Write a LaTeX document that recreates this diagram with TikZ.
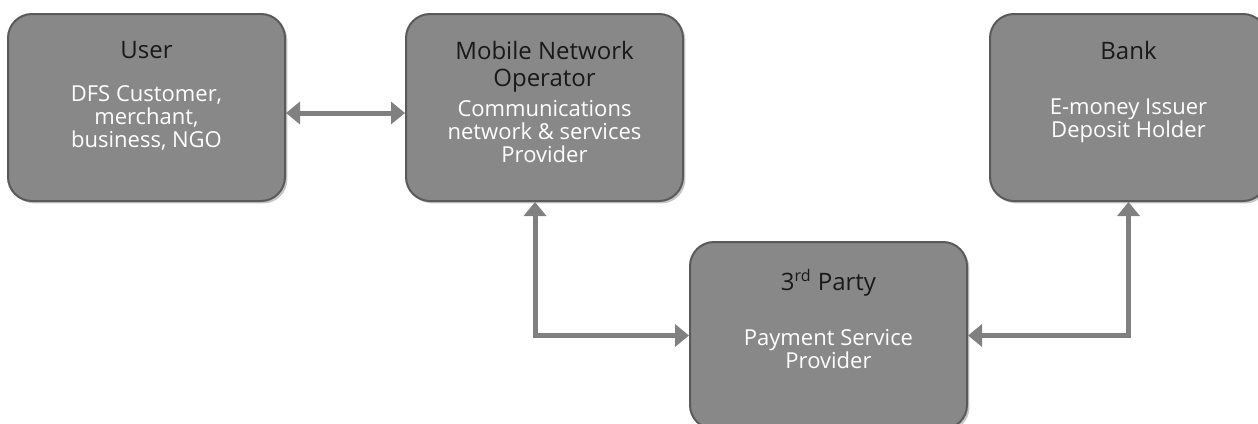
\documentclass[tikz,border=0pt]{standalone}
\usepackage{fontspec}
\setmainfont{Open Sans}
\usetikzlibrary{arrows.meta,shadows,calc}

\definecolor{boxgray}{RGB}{136,136,136}
\definecolor{edgegray}{RGB}{90,90,90}
\definecolor{linkgray}{RGB}{128,128,128}

% contenu d'une boite : titre, ecart, texte
\newcommand{\boxtext}[3]{%
    \parbox[c][93pt][t]{136pt}{\centering\vspace*{13.5pt}%
        {\fontsize{12}{13.5}\selectfont\color{black!90}#1\par}%
        \vspace{#2}%
        {\fontsize{11}{11.5}\selectfont\color{white}#3\par}}}

\begin{document}
\begin{tikzpicture}[x=0.5pt,y=-0.5pt,
    hpbox/.style={rectangle, rounded corners=12pt, fill=boxgray, draw=edgegray,
        line width=1pt, minimum width=138.5pt, minimum height=93.5pt, inner sep=0pt,
        drop shadow={opacity=.45, shadow xshift=1.2pt, shadow yshift=-1.2pt}},
    link/.style={draw=linkgray, line width=2.5pt,
        {Triangle[width=11pt,length=7pt]}-{Triangle[width=11pt,length=7pt]}}]

    % cadre
    \useasboundingbox (0,0) rectangle (1258,423);
    \clip (0,0) rectangle (1258,423);

    % boites
    \node[hpbox] (user) at (146.5,107.5)
        {\boxtext{User}{10pt}{DFS Customer,\\merchant,\\business, NGO}};
    \node[hpbox] (mno) at (544.5,107.5)
        {\boxtext{Mobile Network\\Operator}{3.5pt}{Communications\\network \& services\\Provider}};
    \node[hpbox] (bank) at (1128.5,107.5)
        {\boxtext{Bank}{16pt}{E-money Issuer\\Deposit Holder}};
    \node[hpbox] (third) at (828.5,335.5)
        {\boxtext{3\textsuperscript{rd} Party}{16pt}{Payment Service\\Provider}};

    % liaisons
    \draw[link] ($(user.east)+(0,5.5)$) -- ($(mno.west)+(0,5.5)$);
    \draw[link] ($(mno.south)+(-9.5,0)$) |- (third.west);
    \draw[link] (bank.south) |- (third.east);

\end{tikzpicture}
\end{document}
